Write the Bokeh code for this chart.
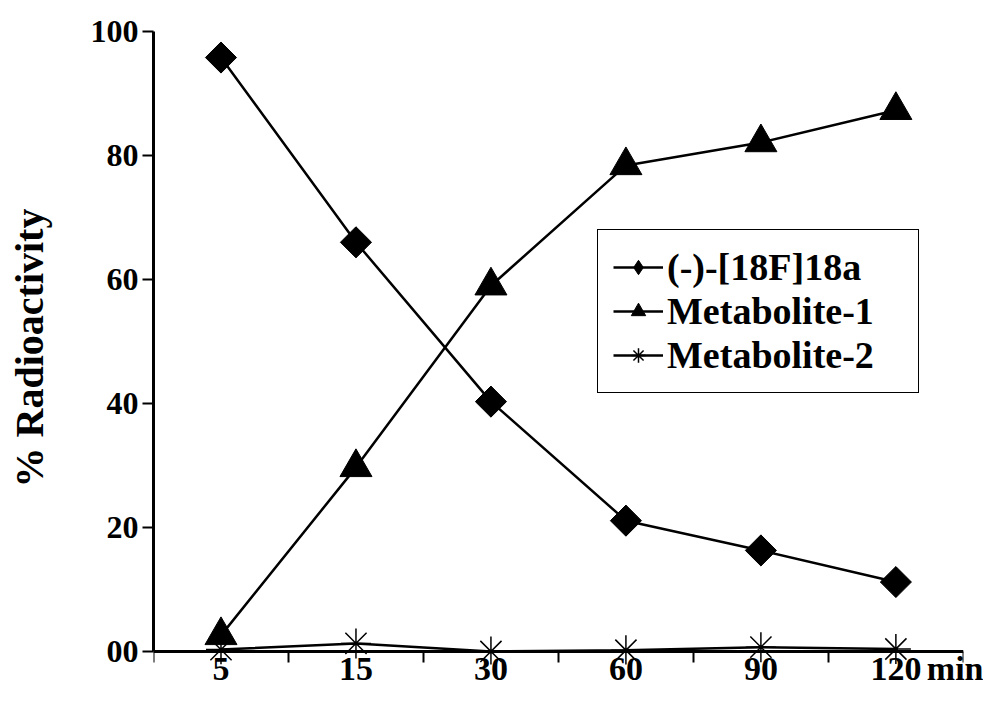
import math
from bokeh.plotting import figure
from bokeh.models import Range1d, FixedTicker, Legend, LegendItem, LinearAxis
from bokeh.embed import file_html
from bokeh.resources import INLINE

# ---- data ----
times = ["5", "15", "30", "60", "90", "120"]
unit_label = "min"
parent = [95.8, 66.0, 40.3, 21.1, 16.3, 11.2]        # (-)-[18F]18a
metab1 = [2.6, 29.7, 59.0, 78.4, 82.1, 87.3]         # Metabolite-1
metab2 = [0.3, 1.3, 0.0, 0.2, 0.7, 0.4]              # Metabolite-2
y_ticks = [0, 20, 40, 60, 80, 100]
y_tick_labels = ["00", "20", "40", "60", "80", "100"]
series_names = ["(-)-[18F]18a", "Metabolite-1", "Metabolite-2"]

FONT = "Liberation Serif"
n = len(times)
x = [i + 0.5 for i in range(n)]

p = figure(frame_width=810, frame_height=633, output_backend="svg",
           toolbar_location=None, x_range=Range1d(0, n + 0.001),
           y_range=Range1d(-2.1, 100), x_axis_location=None,
           min_border_left=153, min_border_top=31, min_border_right=20,
           min_border_bottom=0)
p.outline_line_color = None
p.grid.grid_line_color = None
p.background_fill_color = "white"

# x axis: labels only (at the frame bottom)
xb = LinearAxis(ticker=FixedTicker(ticks=x + [n], minor_ticks=[]))
labels = {xi: t for xi, t in zip(x, times)}
labels[n] = unit_label
xb.major_label_overrides = labels
xb.axis_line_color = None
xb.major_tick_line_color = None
xb.major_tick_out = 0
xb.major_tick_in = 0
xb.major_label_standoff = -15
xb.major_label_text_font = FONT
xb.major_label_text_font_style = "bold"
xb.major_label_text_font_size = "34px"
xb.major_label_text_color = "black"
p.add_layout(xb, "below")

# x axis: line and category separators at y = 0
xa = LinearAxis(ticker=FixedTicker(ticks=[], minor_ticks=list(range(n + 1))))
xa.fixed_location = 0
xa.bounds = (0, n)
xa.axis_line_width = 3
xa.axis_line_color = "black"
xa.major_tick_out = 0
xa.major_tick_in = 0
xa.minor_tick_out = 11
xa.minor_tick_in = 0
xa.minor_tick_line_width = 2
xa.minor_tick_line_color = "black"
xa.major_label_text_font_size = "0px"
xa.major_label_standoff = 0
p.add_layout(xa, "below")

# y axis
ya = p.yaxis[0]
ya.ticker = FixedTicker(ticks=y_ticks, minor_ticks=[])
ya.major_label_overrides = {v: s for v, s in zip(y_ticks, y_tick_labels)}
ya.bounds = (0, 100)
ya.axis_line_width = 3
ya.axis_line_color = "black"
ya.major_tick_out = 11
ya.major_tick_in = 0
ya.major_tick_line_width = 2
ya.major_label_standoff = 4
ya.major_label_text_font = FONT
ya.major_label_text_font_style = "bold"
ya.major_label_text_font_size = "32px"
ya.major_label_text_color = "black"
ya.axis_label = "% Radioactivity"
ya.axis_label_text_font = FONT
ya.axis_label_text_font_style = "bold"
ya.axis_label_text_font_size = "40px"
ya.axis_label_text_color = "black"
ya.axis_label_standoff = 36

# series
l1 = p.line(x, parent, line_color="black", line_width=2.5)
s1_legend = p.scatter(x, parent, marker="diamond", size=30,
                      fill_color="black", line_color="black")
s1 = p.scatter(x, parent, marker="square", size=22, angle=math.pi / 4,
               fill_color="black", line_color="black")
l2 = p.line(x, metab1, line_color="black", line_width=2.5)
s2 = p.scatter(x, metab1, marker="triangle", size=32, fill_color="black",
               line_color="black")
l3 = p.line(x, metab2, line_color="black", line_width=2.5)
s3 = p.scatter(x, metab2, marker="asterisk", size=30, line_color="black",
               line_width=1.5)

legend = Legend(items=[LegendItem(label=series_names[0], renderers=[l1, s1_legend]),
                       LegendItem(label=series_names[1], renderers=[l2, s2]),
                       LegendItem(label=series_names[2], renderers=[l3, s3])],
                location=(444, 271))
legend.border_line_color = "black"
legend.border_line_width = 1.5
legend.border_line_alpha = 1
legend.background_fill_color = "white"
legend.background_fill_alpha = 1
legend.label_text_font = FONT
legend.label_text_font_style = "bold"
legend.label_text_font_size = "38px"
legend.label_text_color = "black"
legend.label_width = 236
legend.glyph_width = 50
legend.glyph_height = 36
legend.spacing = 0
legend.padding = 15
legend.margin = 0
legend.label_standoff = 4
p.add_layout(legend, "center")

open("out.html", "w").write(file_html(p, INLINE))
